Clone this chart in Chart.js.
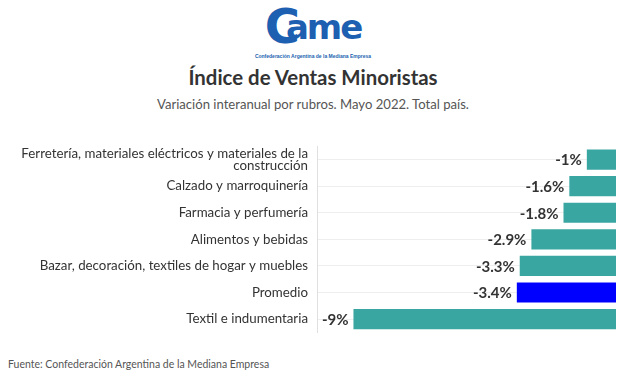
<!DOCTYPE html>
<html><head><meta charset="utf-8">
<script src="https://cdn.jsdelivr.net/npm/chart.js@4/dist/chart.umd.min.js"></script>
<style>
html,body{margin:0;padding:0;background:#fff;width:626px;height:379px;overflow:hidden;font-family:Lato,"Open Sans",sans-serif;}
#logo{position:absolute;left:0;top:6px;width:626px;text-align:center;color:#1d5fb0;font:bold 34px/40px "DejaVu Sans",sans-serif;letter-spacing:-2px;}
#logo .c{font-size:48px;letter-spacing:-14px;vertical-align:-4px;}
#logosub{position:absolute;left:0;top:53px;width:626px;text-align:center;color:#1d5fb0;font:bold 5px "Liberation Sans",Arial,sans-serif;}
#title{position:absolute;left:0;top:65px;width:626px;text-align:center;color:#333;font:bold 20.4px Lato,sans-serif;}
#sub{position:absolute;left:0;top:96px;width:626px;text-align:center;color:#555;font:13.1px Lato,sans-serif;}
#wrap{position:absolute;left:0;top:131px;width:626px;height:223px;}
#foot{position:absolute;left:8px;top:358px;color:#555;font:10.5px Lato,sans-serif;}
</style></head><body>
<div id="logo"><span class="c">C</span>ame</div>
<div id="logosub">Confederación Argentina de la Mediana Empresa</div>
<div id="title">Índice de Ventas Minoristas</div>
<div id="sub">Variación interanual por rubros. Mayo 2022. Total país.</div>
<div id="wrap"><canvas id="c"></canvas></div>
<div id="foot">Fuente: Confederación Argentina de la Mediana Empresa</div>
<script>
const categories = [
  ["Ferretería, materiales eléctricos y materiales de la","construcción"],
  "Calzado y marroquinería",
  "Farmacia y perfumería",
  "Alimentos y bebidas",
  "Bazar, decoración, textiles de hogar y muebles",
  "Promedio",
  "Textil e indumentaria"
];
const values = [-1, -1.6, -1.8, -2.9, -3.3, -3.4, -9];
const valueLabels = ["-1%","-1.6%","-1.8%","-2.9%","-3.3%","-3.4%","-9%"];
const barColors = ["#3aa6a2","#3aa6a2","#3aa6a2","#3aa6a2","#3aa6a2","#0000ff","#3aa6a2"];

const labelPlugin = {
  id:'vlabels',
  afterDatasetsDraw(chart){
    const ctx = chart.ctx;
    const meta = chart.getDatasetMeta(0);
    ctx.save();
    ctx.font = 'bold 15px Lato, sans-serif';
    ctx.fillStyle = '#333';
    ctx.textAlign = 'right';
    ctx.textBaseline = 'middle';
    meta.data.forEach((el,i)=>{
      ctx.fillText(valueLabels[i], el.x - 5, el.y + 1);
    });
    ctx.restore();
  }
};

new Chart(document.getElementById('c'), {
  type:'bar',
  data:{labels:categories, datasets:[{data:values, backgroundColor:barColors, borderWidth:0, barPercentage:0.76, categoryPercentage:1}]},
  options:{
    indexAxis:'y', responsive:true, maintainAspectRatio:false, animation:false,
    layout:{padding:{top:0,bottom:0,right:10,left:0}},
    plugins:{legend:{display:false},tooltip:{enabled:false}},
    scales:{
      x:{display:false, min:-10.25, max:0},
      y:{
        grid:{offset:false, color:'#eeeeee', drawTicks:false},
        border:{color:'#e0e0e0'},
        ticks:{color:'#333', autoSkip:false, font:{family:'Lato', size:13.3, lineHeight:0.95}, padding:9},
        afterFit(s){ s.width = 317; }
      }
    }
  },
  plugins:[labelPlugin]
});
</script>
</body></html>
